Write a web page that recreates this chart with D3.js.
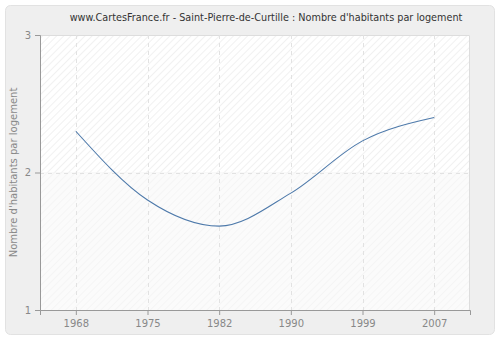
<!DOCTYPE html>
<html>
<head>
<meta charset="utf-8">
<script src="https://cdn.jsdelivr.net/npm/d3@7"></script>
<style>
  html, body { margin: 0; padding: 0; background: #ffffff; }
  svg { display: block; }
  text { font-family: "DejaVu Sans", Verdana, sans-serif; }
</style>
</head>
<body>
<div id="chart"></div>
<script>
// Average number of inhabitants per dwelling, Saint-Pierre-de-Curtille
const years = ["1968", "1975", "1982", "1990", "1999", "2007"];
const values = [2.30, 1.80, 1.61, 1.85, 2.23, 2.40];
const yTicks = [1, 2, 3];
const title = "www.CartesFrance.fr - Saint-Pierre-de-Curtille : Nombre d'habitants par logement";
const yLabel = "Nombre d'habitants par logement";

const W = 500, H = 340;
const plot = { left: 40, right: 470, top: 35, bottom: 310 };

const svg = d3.select("#chart").append("svg")
  .attr("width", W).attr("height", H);

// hatch patterns for the plot background
const defs = svg.append("defs");
function hatch(id, bg, stroke) {
  const p = defs.append("pattern")
    .attr("id", id).attr("patternUnits", "userSpaceOnUse")
    .attr("width", 5).attr("height", 5)
    .attr("patternTransform", "rotate(45)");
  p.append("rect").attr("width", 5).attr("height", 5).attr("fill", bg);
  p.append("line").attr("x1", 0).attr("y1", 0).attr("x2", 0).attr("y2", 5)
    .attr("stroke", stroke).attr("stroke-width", 1.2);
}
hatch("hatchTop", "#ffffff", "#e9e9e9");
hatch("hatchBottom", "#fbfbfb", "#f2f2f2");

// outer panel
svg.append("rect")
  .attr("x", 5.5).attr("y", 5.5).attr("width", 489).attr("height", 329)
  .attr("rx", 5).attr("ry", 5)
  .attr("fill", "#efefef").attr("stroke", "#e2e2e2");

const x = d3.scalePoint().domain(years).range([plot.left, plot.right]).padding(0.5);
const y = d3.scaleLinear().domain([1, 3]).range([plot.bottom, plot.top]);

// plot background: hatched, stronger above the middle gridline
svg.append("rect")
  .attr("x", plot.left).attr("y", plot.top)
  .attr("width", plot.right - plot.left).attr("height", y(2) - plot.top)
  .attr("fill", "url(#hatchTop)");
svg.append("rect")
  .attr("x", plot.left).attr("y", y(2))
  .attr("width", plot.right - plot.left).attr("height", plot.bottom - y(2))
  .attr("fill", "url(#hatchBottom)");

// plot frame (top and right edges)
svg.append("path")
  .attr("d", `M${plot.left},${plot.top + 0.5}H${plot.right - 0.5}V${plot.bottom}`)
  .attr("fill", "none").attr("stroke", "#dddddd");

// gridlines
svg.append("g").selectAll("line").data(years).join("line")
  .attr("x1", d => Math.round(x(d)) + 0.5).attr("x2", d => Math.round(x(d)) + 0.5)
  .attr("y1", plot.top).attr("y2", plot.bottom)
  .attr("stroke", "#e2e2e2").attr("stroke-dasharray", "4,4");
svg.append("g").selectAll("line").data(yTicks.slice(1, -1)).join("line")
  .attr("x1", plot.left).attr("x2", plot.right)
  .attr("y1", d => Math.round(y(d)) + 0.5).attr("y2", d => Math.round(y(d)) + 0.5)
  .attr("stroke", "#e2e2e2").attr("stroke-dasharray", "4,4");

// axes
const axisColor = "#999999";
const xAxis = svg.append("g")
  .attr("transform", `translate(0,${plot.bottom})`)
  .call(d3.axisBottom(x).tickSizeOuter(0).tickSize(5).tickPadding(5));
const yAxis = svg.append("g")
  .attr("transform", `translate(${plot.left},0)`)
  .call(d3.axisLeft(y).tickValues(yTicks).tickFormat(d3.format("d")).tickSizeOuter(0).tickSize(5).tickPadding(4));
[xAxis, yAxis].forEach(g => {
  g.select(".domain").attr("stroke", axisColor);
  g.selectAll(".tick line").attr("stroke", axisColor);
  g.selectAll(".tick text").attr("fill", "#888888")
    .style("font-family", "'DejaVu Sans', Verdana, sans-serif").style("font-size", "10px");
});

// data line
const line = d3.line()
  .x((d, i) => x(years[i]))
  .y(d => y(d))
  .curve(d3.curveMonotoneX);
svg.append("path")
  .datum(values)
  .attr("d", line)
  .attr("fill", "none")
  .attr("stroke", "#4d79aa")
  .attr("stroke-width", 1.1);

// title, sized to span 393px
const titleText = svg.append("text")
  .attr("x", 266).attr("y", 21)
  .attr("text-anchor", "middle")
  .attr("fill", "#333333")
  .style("font-size", "11px")
  .text(title);
const tw = titleText.node().getComputedTextLength();
titleText.style("font-size", (11 * 393 / tw).toFixed(2) + "px");

// y axis label
svg.append("text")
  .attr("transform", `translate(17,${(plot.top + plot.bottom) / 2}) rotate(-90)`)
  .attr("text-anchor", "middle")
  .attr("fill", "#888888")
  .style("font-size", "10px")
  .text(yLabel);
</script>
</body>
</html>
